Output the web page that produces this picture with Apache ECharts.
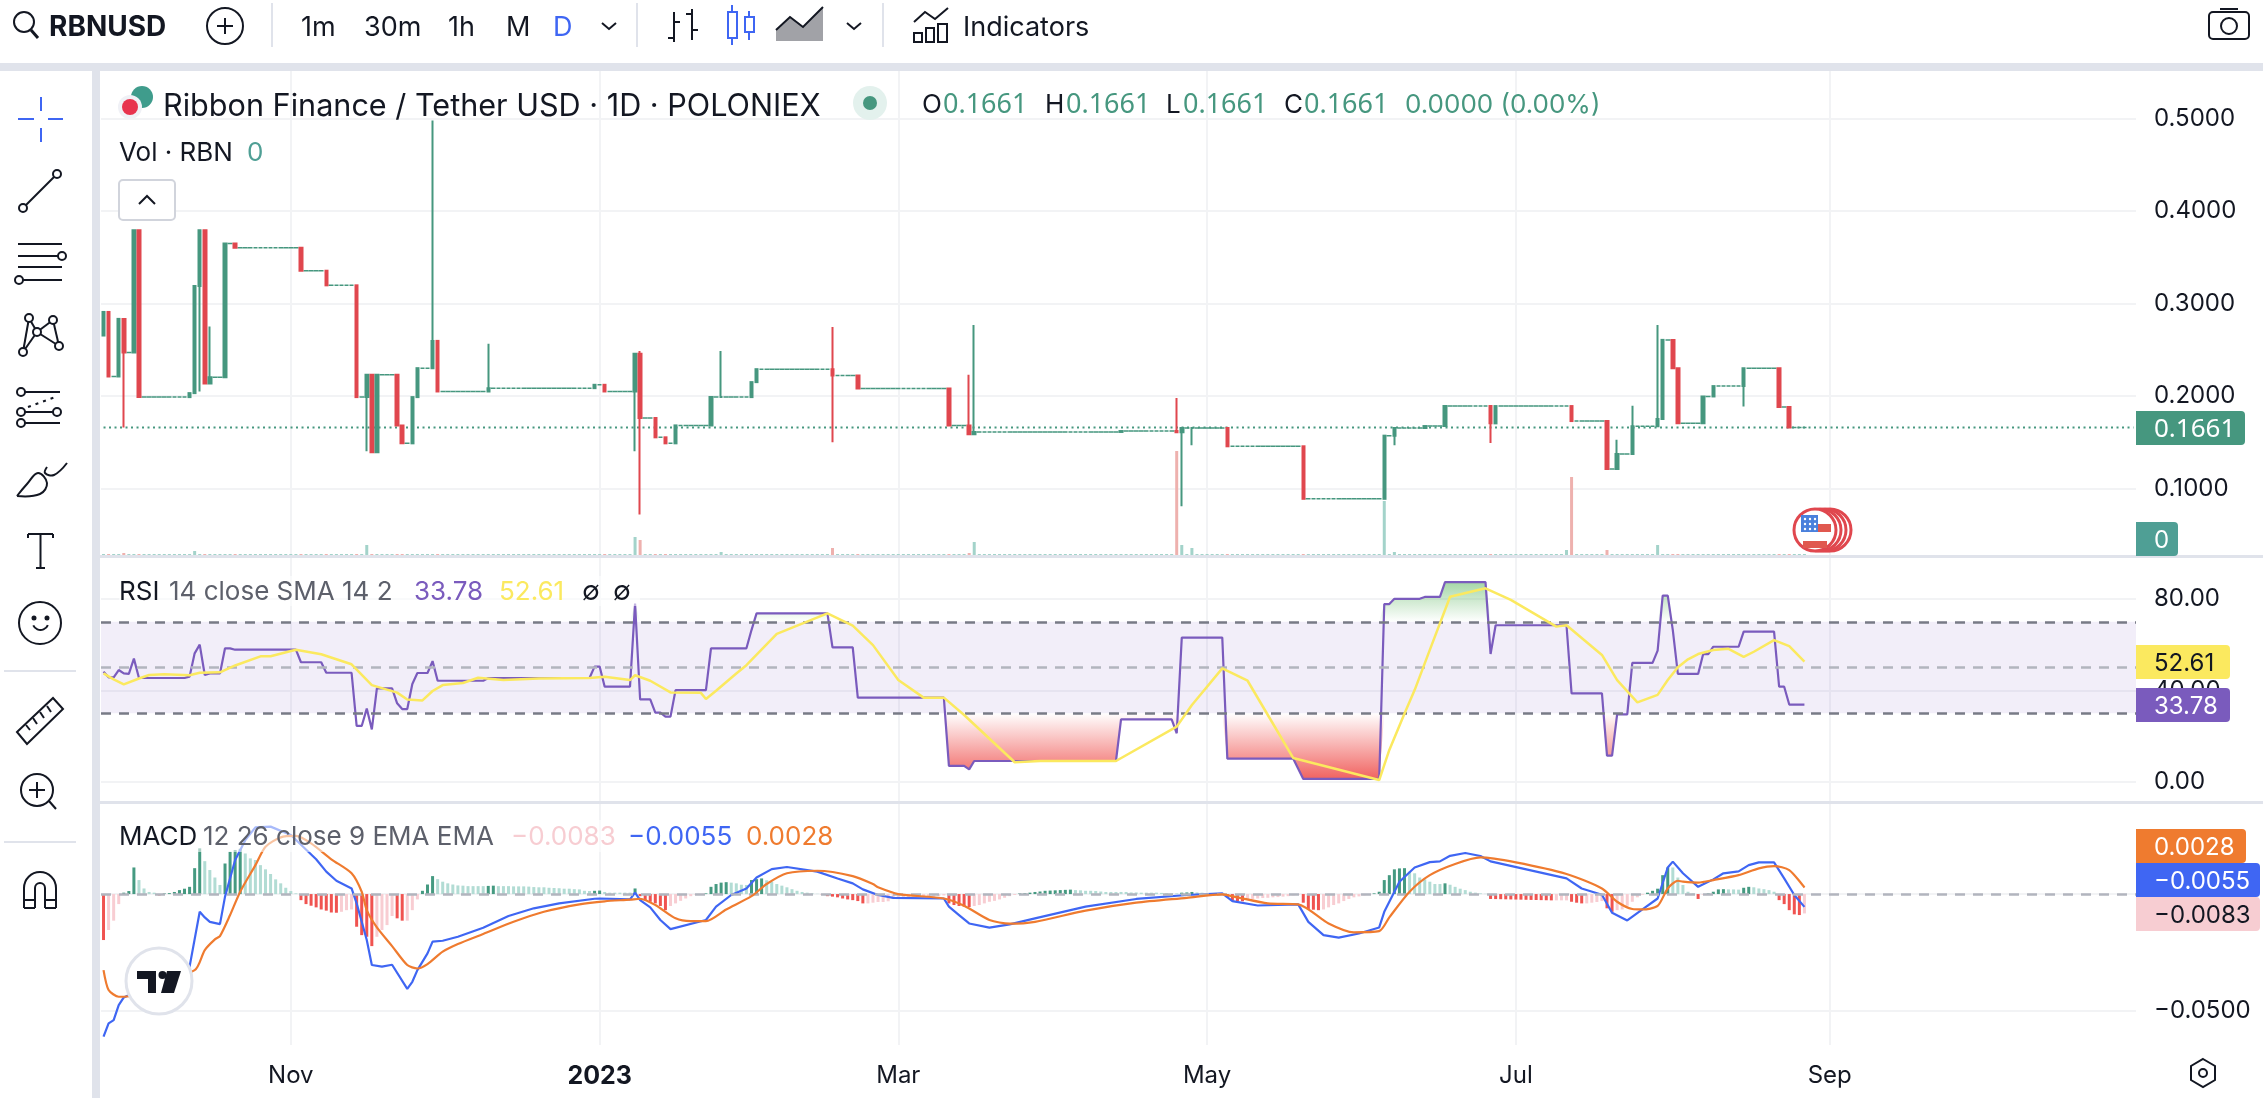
<!DOCTYPE html>
<html lang="en">
<head>
<meta charset="UTF-8">
<title>RBNUSD</title>
<style>
  html, body { margin: 0; padding: 0; background: #fff; }
  #chart { width: 2263px; height: 1098px; }
</style>
</head>
<body>
<div id="chart"></div>
<script src="https://cdn.jsdelivr.net/npm/echarts@6/dist/echarts.min.js"></script>
<script>
// daily axis, one slot per day, first day is 2022-09-25
var firstDay = Date.UTC(2022, 8, 25);
var dayCount = 402;
var lastCandle = 336;
var tickDates = ['2022-11-01', '2023-01-01', '2023-03-01', '2023-05-01', '2023-07-01', '2023-09-01'];
var tickLabels = ['Nov', '{b|2023}', 'Mar', 'May', 'Jul', 'Sep'];

// days the price moved: [day, open, close, low, high], low/high left out when there is no wick
// every other day has no trades and sits at the last close
var candleMoves = [
  [0,.2655,.291],[1,.291,.2212],[3,.2212,.2835],[4,.2835,.2471,.1661],[6,.2471,.3795],[7,.3795,.1989],
  [17,.1989,.2032],[18,.2032,.3191],[19,.3191,.3795,.205],[20,.3795,.2137],[21,.2137,.2205,.2137,.2752],
  [24,.2205,.3651],[26,.3651,.3604],[39,.3604,.3356],[44,.3356,.3198],[50,.3198,.1989],[52,.1989,.223,.1403],
  [53,.223,.1392],[54,.1392,.223],[58,.223,.1683],[59,.1683,.1489],[61,.1489,.1989],[62,.1989,.2302],
  [65,.2302,.2597,.2302,.4982],[66,.2597,.205],[76,.205,.2086,.205,.2565],[97,.2086,.2122],[99,.2122,.205],
  [105,.205,.2457,.1403],[106,.2457,.1763,.0719,.2489],[109,.1763,.1554],[111,.1554,.1489],[113,.1489,.1683],
  [120,.1683,.1989],[122,.1989,.1989,.1989,.2489],[128,.1989,.2151],[129,.2151,.2291],
  [144,.2291,.2223,.15,.2748],[149,.2223,.2083],[167,.2083,.1683],[171,.1683,.1586,.1586,.223],
  [172,.1586,.1612,.1586,.277],[201,.1612,.1622],[212,.1622,.1608,.1608,.1978],[213,.1608,.1655,.0809],
  [215,.1655,.1655,.1468],[222,.1655,.1457],[237,.1457,.0889],[253,.0889,.1572],[255,.1572,.1655,.1468],
  [261,.1655,.1676],[265,.1676,.1892],[274,.1892,.1705,.1493],[275,.1705,.1892],[290,.1892,.173],
  [297,.173,.1212],[299,.1212,.1374,.1212,.1529],[302,.1374,.1673,.1374,.1896],[307,.1673,.1752,.1673,.277],
  [308,.1752,.2608],[310,.2608,.2302],[311,.2302,.1705],[316,.1705,.1996],[318,.1996,.2108],
  [324,.2108,.2302,.1888],[331,.2302,.1881],[333,.1881,.1661]
];
var lastPrice = 0.1661;

// volume has no readable scale, these are relative heights
var baseVolume = 2;
var volumeSpikes = [[4,3],[18,5],[52,11],[105,19],[106,16],[122,4],[144,8],[171,3],[172,14],[212,105],
  [213,11],[215,8],[253,55],[255,4],[289,6],[290,79],[297,6],[307,11]];

var rsiLine = [[0,48.2],[1,45.7],[2,45.7],[3,48.9],[4,47.4],[5,47.2],[6,53.9],[7,45.4],[16,45.4],[17,46],[18,56.2],
  [19,60],[20,46.7],[21,47.4],[23,47.4],[24,58.4],[25,58.4],[26,57.8],[38,57.8],[39,52.3],[43,52.3],[44,47.7],
  [49,47.7],[50,24.4],[51,24.4],[52,32],[53,22.9],[54,40.9],[57,40.9],[58,34.3],[59,31.8],[60,31.8],[61,42.8],
  [62,47.6],[64,47.6],[65,52.8],[66,44.2],[75,44.2],[76,45.4],[96,45.4],[97,50.4],[98,50.4],[99,41.6],[104,41.6],
  [105,78],[106,36],[108,36],[109,30.2],[110,30.2],[111,28.5],[112,28.5],[113,40.1],[119,40.1],[120,58.4],
  [127,58.4],[128,66.4],[129,73.7],[143,73.7],[144,58.8],[148,58.8],[149,36.8],[166,36.8],[167,6.9],[170,6.9],
  [171,5.4],[172,9.05],[200,9.05],[201,27.3],[211,27.3],[212,21.2],[213,63.1],[221,63.1],[222,10.1],[235,10.1],
  [237,1.2],[252,1.2],[253,77.8],[254,77.8],[255,80.1],[260,80.1],[261,80.9],[264,80.9],[265,87.4],[273,87.4],
  [274,55.9],[275,68.5],[289,68.5],[290,38.7],[296,38.7],[297,11.4],[298,11.4],[299,29.5],[301,29.5],[302,52],
  [306,52],[307,57.4],[308,81.5],[309,81.5],[310,66.4],[311,47.2],[315,47.2],[316,55.9],[317,55.9],[318,59.1],
  [323,59.1],[324,65.7],[330,65.7],[331,41.6],[332,41.6],[333,33.78],[336,33.78]];

var rsiAverage = [[0,47.4],[2,44.8],[4,42.6],[7,45.2],[9,46.7],[12,47],[17,46.6],[19,47.7],[23,47.9],[26,50.9],
  [31,54.9],[33,54.9],[38,57.8],[43,55.8],[49,51.4],[53,42.3],[58,39],[60,36],[63,35.6],[65,39.7],[67,42.3],
  [71,43.2],[74,45.5],[79,44.5],[86,45.2],[96,45.4],[99,46],[104,44.5],[105,46.6],[108,44.2],[112,39.1],[118,38.9],
  [119,36.2],[121,39.8],[125,47.4],[127,51],[133,64.7],[143,73.7],[148,68.3],[152,59.8],[157,44.5],[162,36.8],
  [166,36.8],[170,29.2],[180,8.5],[185,9.05],[200,9.05],[212,24.1],[215,33.6],[221,49.6],[226,44.2],[230,29.2],
  [235,10.4],[252,.7],[254,13.9],[257,29.9],[259,40.1],[262,57.7],[266,81],[273,84.7],[278,79.6],[287,67.9],
  [289,68.5],[296,55.5],[299,44.5],[303,34.7],[307,38],[309,44.5],[311,50.1],[313,53.6],[315,55.9],[318,57.7],
  [321,58.2],[324,54.7],[326,56.9],[330,62],[333,59.4],[336,52.61]];

// stretches of the rsi past its bands, null breaks the shading
var rsiOversold = [[166,30],[167,6.9],[170,6.9],[171,5.4],[172,9.05],[200,9.05],[201,27.3],[211,27.3],[212,21.2],[213,30],
  [214,null],[221,30],[222,10.1],[235,10.1],[237,1.2],[252,1.2],[253,30],[254,null],[296,30],[297,11.4],[298,11.4],[299,29.5],[301,29.5],[302,30]];
var rsiOverbought = [[104,70],[105,78],[106,70],[107,null],[128,70],[129,73.7],[143,73.7],[144,70],[145,null],
  [252,70],[253,77.8],[254,77.8],[255,80.1],[260,80.1],[261,80.9],[264,80.9],[265,87.4],[273,87.4],[274,70],[275,null],
  [307,70],[308,81.5],[309,81.5],[310,70]];

var macdLine = [[0,-.0611],[1,-.0554],[2,-.054],[3,-.0476],[4,-.0443],[17,-.0311],[19,-.0076],[20,-.01],[21,-.0119],
  [23,-.0129],[24,-.0011],[26,.0146],[28,.0231],[30,.0286],[33,.0289],[37,.0253],[42,.0149],[44,.0096],[46,.0057],
  [49,.0024],[50,-.004],[52,-.0197],[53,-.0304],[55,-.0311],[57,-.0303],[60,-.0406],[61,-.0376],[62,-.0326],
  [64,-.0254],[65,-.0204],[67,-.02],[70,-.0183],[75,-.0144],[80,-.0094],[85,-.0061],[90,-.004],[97,-.002],[98,-.0019],
  [104,-.0023],[105,.0006],[106,-.0026],[108,-.0057],[110,-.0111],[112,-.015],[119,-.0111],[121,-.0054],[124,-.0004],
  [127,.0024],[129,.0071],[132,.0107],[135,.0116],[141,.0096],[145,.0067],[148,.0046],[150,.002],[153,-.0004],
  [156,-.0016],[166,-.0019],[167,-.0054],[169,-.009],[171,-.0126],[175,-.0144],[179,-.013],[184,-.0104],[194,-.0054],
  [204,-.0021],[214,-.0004],[221,.0003],[223,-.003],[228,-.0049],[236,-.0044],[238,-.0119],[241,-.0176],[244,-.0187],
  [248,-.0169],[252,-.0143],[253,-.0076],[256,.0053],[259,.0114],[262,.0137],[264,.014],[266,.0164],[269,.0176],
  [272,.0163],[274,.014],[289,.0067],[292,.0024],[296,-.0003],[298,-.008],[301,-.0113],[304,-.0066],[307,-.0019],
  [309,.0114],[310,.0139],[312,.0089],[315,.0031],[318,.0063],[320,.0089],[323,.0097],[325,.0124],[327,.0136],
  [330,.0136],[332,.0067],[334,-.0004],[336,-.0055]];

var macdSignal = [[0,-.0326],[1,-.0411],[3,-.044],[4,-.044],[18,-.0326],[20,-.024],[22,-.0194],[23,-.018],[25,-.009],
  [27,.001],[30,.0124],[32,.0203],[35,.0243],[38,.0249],[41,.0217],[45,.0149],[49,.0089],[51,.001],[52,-.0069],
  [54,-.0143],[57,-.0223],[60,-.0304],[62,-.0319],[64,-.03],[67,-.0247],[70,-.0214],[75,-.0171],[81,-.0119],
  [87,-.0076],[94,-.0044],[99,-.0031],[104,-.0024],[106,-.002],[109,-.0047],[113,-.0104],[116,-.0116],[119,-.0116],
  [123,-.0066],[128,-.0009],[131,.0043],[135,.0089],[141,.01],[148,.0077],[152,.0043],[153,.0029],[157,0],[166,-.0019],
  [170,-.005],[175,-.0111],[179,-.0127],[184,-.0119],[194,-.0071],[204,-.0037],[214,-.0016],[221,-.0001],[224,-.0014],
  [230,-.004],[236,-.0044],[242,-.0126],[247,-.0164],[252,-.0159],[254,-.01],[258,.001],[262,.0081],[267,.0129],
  [272,.0157],[279,.0136],[289,.0086],[296,.0024],[299,-.0033],[302,-.0064],[304,-.0066],[307,-.0051],[309,.0024],
  [311,.0057],[312,.0053],[315,.0049],[318,.006],[323,.0081],[327,.011],[330,.012],[333,.0103],[336,.0028]];

var macdHist = [
  -.0197,-.0154,-.0114,-.0043,.0006,.0013,.0114,.006,.0024,.0009,
  .0006,-.0006,.0003,.0004,.0009,.0017,.0023,.0031,.0111,.0196,
  .0141,.0103,.0071,.0039,.0131,.0181,.0189,.0194,.0174,.0153,
  .0146,.0124,.0106,.0086,.0063,.0046,.0027,.0013,.0003,-.0026,
  -.0043,-.005,-.0057,-.0066,-.0071,-.0079,-.008,-.0076,-.0069,-.0066,
  -.014,-.0176,-.0183,-.0223,-.0183,-.0154,-.0133,-.0094,-.0104,-.0114,
  -.0114,-.0069,-.0023,.0014,.0041,.0077,.0064,.0053,.0046,.0041,
  .0037,.0036,.0034,.0034,.0034,.0034,.0035,.0036,.0034,.0034,
  .0034,.0033,.0033,.0033,.0032,.003,.0029,.0029,.0027,.0026,
  .0025,.0023,.0023,.0021,.002,.0014,.0013,.0014,.0015,.0009,
  .0006,.0006,.0006,.0006,.0006,.0024,-.0009,-.0026,-.0033,-.004,
  -.0051,-.0069,-.0051,-.004,-.0029,-.0019,-.0009,-.0003,-.0001,.0003,
  .0031,.0043,.0049,.0051,.0049,.0046,.004,.0039,.006,.0064,
  .0067,.0059,.0053,.0043,.0036,.0029,.0021,.0014,.0009,.0006,
  .0003,.0001,-.0004,-.0009,-.0011,-.0014,-.0019,-.0023,-.0026,-.003,
  -.004,-.004,-.0037,-.0034,-.0034,-.0031,-.0019,-.0016,-.0014,-.0013,
  -.0011,-.0011,-.0011,-.0011,-.0011,-.0009,-.0006,-.004,-.0047,-.0051,
  -.0054,-.0056,-.0051,-.0047,-.004,-.0033,-.0029,-.0023,-.0016,-.0009,
  -.0004,.0003,.0004,.0006,.0009,.0011,.0014,.0015,.0016,.0017,
  .0018,.0019,.0017,.0016,.0014,.0014,.0013,.0011,.0009,.0009,
  .0009,.0009,.0009,.0007,.0007,.0006,.0006,.0006,.0006,.0005,
  .0004,.0003,.0003,.0006,.0007,.0009,.0007,.0006,.0004,.0003,
  .0002,-.0003,-.0014,-.0029,-.003,-.0031,-.0023,-.0021,-.0019,-.0017,
  -.0016,-.0014,-.0013,-.0011,-.0009,-.0006,-.0003,-.0037,-.0066,-.0067,
  -.0069,-.0066,-.0057,-.0047,-.004,-.003,-.0021,-.0014,-.001,-.0006,
  -.0003,.0003,.001,.006,.0081,.0106,.011,.0111,.0096,.0089,
  .0071,.0063,.0053,.0043,.0043,.0046,.004,.0031,.0023,.0017,
  .001,.0006,.0003,.0001,-.0021,-.00215,-.0022,-.00225,-.0023,-.00235,
  -.0024,-.00245,-.0025,-.00255,-.0026,-.00265,-.0027,-.0027,-.0027,-.0027,
  -.0033,-.0037,-.004,-.004,-.0037,-.0034,-.003,-.0061,-.0076,-.0069,
  -.0066,-.005,-.0033,-.0014,-.0003,.0006,.0014,.0023,.0081,.0114,
  .0114,.0071,.0039,.001,.0003,-.0021,-.0003,.0003,.001,.002,
  .0021,.002,.002,.0019,.0027,.0031,.0029,.0024,.0021,.0017,
  .001,-.0026,-.0043,-.0069,-.0087,-.009,-.0083
];

var GREEN = '#46977f', RED = '#e0474e';
var PALE_GREEN = '#a3d3ca', PALE_RED = '#eeb1ae';
var PURPLE = '#7a5bbd', YELLOW = '#fbe95f', BLUE = '#3f66f3', ORANGE = '#ef7b2f', PINK = '#f7cdd2';
var INK = '#131722', GREY = '#5d606b', GRID = '#f2f3f5', EDGE = '#e0e3eb';
var FONT = 'Inter, "Noto Sans", sans-serif';
var NUMS = '"Noto Sans", sans-serif';

var categories = [];
for (var d = 0; d < dayCount; d++) {
  categories.push(new Date(firstDay + d * 864e5).toISOString().slice(0, 10));
}

// moved days and flat days go to two series, flat days draw as a wider dash
var candles = [];
var flatCandles = [];
var volumes = [];
var lastClose = candleMoves[0][1];
var moveAt = {};
candleMoves.forEach(function (m) { moveAt[m[0]] = m; });
volumeSpikes.forEach(function (s) { moveAt['v' + s[0]] = s[1]; });
for (var i = 0; i <= lastCandle; i++) {
  var m = moveAt[i];
  var row;
  if (m) {
    var lo = m[3] == null ? Math.min(m[1], m[2]) : m[3];
    var hi = m[4] == null ? Math.max(m[1], m[2]) : m[4];
    row = [m[1], m[2], lo, hi];
    lastClose = m[2];
    candles.push(row);
    flatCandles.push('-');
  } else {
    row = [lastClose, lastClose, lastClose, lastClose];
    candles.push('-');
    flatCandles.push(row);
  }
  volumes.push({
    value: moveAt['v' + i] || baseVolume,
    itemStyle: { color: row[1] < row[0] ? PALE_RED : PALE_GREEN }
  });
}

var histBars = macdHist.map(function (v, k) {
  var prev = k ? macdHist[k - 1] : 0;
  var c;
  if (v >= 0) c = v > prev ? '#459a81' : '#b2dcd4';
  else c = v < prev ? '#f05350' : '#f8cdd2';
  return { value: v, itemStyle: { color: c } };
});

// ---- chrome drawn on top of the panes
var els = [];
function T(x, y, text, fill, size, weight, family) {
  els.push({ type: 'text', z: 100, silent: true, style: {
    x: x, y: y + 1.5, text: text, fill: fill || INK, textAlign: 'left', textVerticalAlign: 'middle',
    font: (weight || 'normal') + ' ' + (size || 27) + 'px ' + (family || FONT) } });
}
function L(x1, y1, x2, y2, color, w, dash) {
  els.push({ type: 'line', z: 100, silent: true, shape: { x1: x1, y1: y1, x2: x2, y2: y2 },
    style: { stroke: color || INK, lineWidth: w || 2, lineDash: dash } });
}
function C(x, y, r, stroke, fill, w) {
  els.push({ type: 'circle', z: 100, silent: true, shape: { cx: x, cy: y, r: r },
    style: { stroke: stroke === undefined ? INK : stroke, fill: fill || '#fff', lineWidth: w || 2 } });
}
function R(x, y, w, h, fill, stroke, r) {
  els.push({ type: 'rect', z: 100, silent: true, shape: { x: x, y: y, width: w, height: h, r: r || 0 },
    style: { fill: fill || 'none', stroke: stroke || null, lineWidth: 2 } });
}
function P(points, stroke, fill, closed) {
  els.push({ type: closed ? 'polygon' : 'polyline', z: 100, silent: true, shape: { points: points },
    style: { stroke: stroke === undefined ? INK : stroke, fill: fill || 'none', lineWidth: 2 } });
}
function badge(x, y, w, h, fill, text, color, family, size) {
  R(x, y, w, h, fill, null, [0, 4, 4, 0]);
  T(x + 18, y + h / 2, text, color, size || 24, null, family);
}

// separators
R(0, 63, 2263, 8, EDGE);
R(92, 63, 8, 1035, EDGE);
R(100, 555, 2163, 3, EDGE);
R(100, 801, 2163, 3, EDGE);

// top bar
C(24, 22, 10); L(31, 30, 38, 38, INK, 3);
T(49, 26, 'RBNUSD', INK, 28, 'bold');
C(225, 26, 18); L(217, 26, 233, 26); L(225, 18, 225, 34);
L(272, 3, 272, 47, EDGE); L(637, 3, 637, 47, EDGE); L(883, 3, 883, 47, EDGE);
T(301, 26, '1m'); T(364, 26, '30m'); T(448, 26, '1h'); T(506, 26, 'M'); T(553, 26, 'D', BLUE);
P([[602, 23], [609, 29], [616, 23]]);
L(674, 12, 674, 42); L(668, 38, 674, 38); L(674, 22, 680, 22);
L(692, 9, 692, 40); L(686, 14, 692, 14); L(692, 30, 698, 30);
L(732, 5, 732, 45, BLUE); R(728, 12, 9, 26, '#fff', BLUE);
L(749, 11, 749, 40, BLUE); R(745, 17, 9, 15, '#fff', BLUE);
P([[776, 41], [776, 30], [790, 17], [803, 27], [823, 7], [823, 41]], null, 'rgba(19,23,34,0.4)', true);
P([[776, 30], [790, 17], [803, 27], [823, 7]]);
P([[847, 23], [854, 29], [861, 23]]);
P([[914, 22], [925, 12], [935, 19], [948, 8]]);
R(914, 33, 8, 9, null, INK); R(926, 28, 8, 14, null, INK); R(938, 24, 9, 18, null, INK);
T(963, 26, 'Indicators');
R(2209, 12, 40, 27, null, INK, 4); C(2229, 26, 8); L(2220, 9, 2238, 9);

// left tools
L(18, 119, 34, 119, BLUE); L(48, 119, 63, 119, BLUE); L(41, 97, 41, 111, BLUE); L(41, 128, 41, 142, BLUE);
L(23, 208, 57, 174); C(23, 208, 4); C(57, 174, 4);
[244, 256, 267, 280].forEach(function (y) { L(18, y, 62, y); });
C(62, 256, 4); C(19, 280, 4);
[[23, 352, 29, 318], [29, 318, 37, 332], [23, 352, 37, 332], [37, 332, 53, 320], [53, 320, 59, 346], [37, 332, 59, 346]].forEach(function (e) {
  L(e[0], e[1], e[2], e[3]);
});
[[29, 318], [23, 352], [37, 332], [53, 320], [59, 346]].forEach(function (n) { C(n[0], n[1], 4); });
L(21, 392, 60, 392); L(21, 412, 57, 412); L(21, 423, 60, 423); L(28, 407, 58, 396, INK, 2, [3, 5]);
C(21, 392, 4); C(21, 412, 4); C(57, 412, 4); C(21, 423, 4);
els.push({ type: 'polyline', z: 100, silent: true, shape: { points: [[17, 496], [27, 484], [38, 473], [47, 483], [40, 494], [17, 496]], smooth: 0.4 }, style: { stroke: INK, fill: 'none', lineWidth: 2 } });
els.push({ type: 'polyline', z: 100, silent: true, shape: { points: [[47, 467], [45, 473], [54, 475], [67, 463]], smooth: 0.4 }, style: { stroke: INK, fill: 'none', lineWidth: 2 } });
L(28, 534, 53, 534); L(40.5, 534, 40.5, 568); L(36, 568, 45, 568); L(28, 534, 28, 538); L(53, 534, 53, 538);
C(40, 623, 21); C(34, 618, 1.5, INK, INK); C(47, 618, 1.5, INK, INK);
els.push({ type: 'arc', z: 100, silent: true, shape: { cx: 40.5, cy: 622, r: 8, startAngle: 0.4, endAngle: 2.7 }, style: { stroke: INK, fill: 'none', lineWidth: 2 } });
L(4, 671, 76, 671, EDGE);
P([[17, 732], [53, 698], [63, 709], [27, 744]], INK, null, true);
[[26, 725, 30, 730], [33, 718, 37, 724], [40, 712, 44, 718], [47, 706, 51, 712]].forEach(function (e) { L(e[0], e[1], e[2], e[3]); });
C(37, 790, 16); L(29, 790, 45, 790); L(37, 782, 37, 798); L(49, 801, 56, 809);
L(4, 842, 76, 842, EDGE);
els.push({ type: 'arc', z: 100, silent: true, shape: { cx: 40, cy: 888, r: 16, startAngle: Math.PI, endAngle: 2 * Math.PI }, style: { stroke: INK, fill: 'none', lineWidth: 2 } });
els.push({ type: 'arc', z: 100, silent: true, shape: { cx: 40, cy: 888, r: 5, startAngle: Math.PI, endAngle: 2 * Math.PI }, style: { stroke: INK, fill: 'none', lineWidth: 2 } });
L(24, 888, 24, 908); L(35, 888, 35, 908); L(45, 888, 45, 908); L(56, 888, 56, 908);
L(24, 908, 35, 908); L(45, 908, 56, 908); L(24, 900, 35, 900); L(45, 900, 56, 900);

// main legend
C(142, 97, 11, null, '#3f9c8c'); C(130, 107, 12, null, '#f0f1f6'); C(130, 107, 8, null, '#e8334e');
T(163, 105, 'Ribbon Finance / Tether USD · 1D · POLONIEX', INK, 30.6);
C(870, 103, 17, null, '#e3f1ed'); C(870, 103, 7, null, GREEN);
T(922, 104, 'O', INK, 26); T(943, 104, '0.1661', GREEN, 27, null, NUMS);
T(1045, 104, 'H', INK, 26); T(1066, 104, '0.1661', GREEN, 27, null, NUMS);
T(1166, 104, 'L', INK, 26); T(1183, 104, '0.1661', GREEN, 27, null, NUMS);
T(1284, 104, 'C', INK, 26); T(1304, 104, '0.1661', GREEN, 27, null, NUMS);
T(1405, 104, '0.0000 (0.00%)', GREEN, 26);
T(119, 152, 'Vol · RBN', INK, 26); T(247, 152, '0', '#4f9f95', 26);
R(119, 180, 56, 40, '#fff', '#d1d4dc', 4);
P([[139, 204], [147, 196], [155, 204]], INK);

// indicator legends sit on a veil that fades the lines under them
R(119, 576, 521, 30, 'rgba(255,255,255,0.55)');
R(119, 820, 716, 32, 'rgba(255,255,255,0.55)');
T(119, 591, 'RSI', INK, 26); T(169, 591, '14 close SMA 14 2', GREY, 26);
T(414, 591, '33.78', PURPLE, 26); T(499, 591, '52.61', YELLOW, 26);
T(582, 591, '∅', INK, 26); T(613, 591, '∅', INK, 26);
T(119, 836, 'MACD', INK, 26); T(203, 836, '12 26 close 9 EMA EMA', GREY, 26);
T(511, 836, '−0.0083', PINK, 26); T(628, 836, '−0.0055', BLUE, 26); T(746, 836, '0.0028', ORANGE, 26);

// price scale tags
badge(2136, 411, 109, 34, GREEN, '0.1661', '#fff', NUMS, 26);
badge(2136, 522, 42, 34, '#4f9f95', '0', '#fff');
badge(2136, 645, 94, 34, YELLOW, '52.61', INK);
badge(2136, 688, 94, 34, PURPLE, '33.78', '#fff');
badge(2136, 829, 110, 34, ORANGE, '0.0028', '#fff');
badge(2136, 863, 124, 34, BLUE, '−0.0055', '#fff');
badge(2136, 897, 124, 34, PINK, '−0.0083', INK);

// event marker
[1830, 1825, 1820].forEach(function (x) { C(x, 530, 21, RED, '#fff', 3); });
C(1815, 530, 21, RED, '#fff', 3);
R(1801, 515, 17, 17, '#4a80dc');
R(1818, 524, 13, 8, '#e0584f');
R(1803, 541, 24, 7, '#e0584f');
[[1805, 519], [1810, 519], [1815, 519], [1805, 524], [1810, 524], [1815, 524], [1805, 529], [1810, 529], [1815, 529]].forEach(function (s) {
  C(s[0], s[1], 1.2, null, '#fff');
});

// tradingview badge and settings
C(159, 981, 33, EDGE, '#fff', 3);
R(137, 971, 19, 8, INK); R(148, 971, 8, 22, INK); C(162.5, 975, 4, null, INK);
P([[167, 971], [181, 971], [174, 993], [161, 993]], null, INK, true);
P([[2203, 1059], [2215, 1066], [2215, 1080], [2203, 1087], [2191, 1080], [2191, 1066]], INK, null, true);
C(2203, 1073, 4);

var gridBase = { left: 101, width: 2035, show: false, outerBoundsMode: 'none' };
var hiddenX = function (idx) {
  return { type: 'category', gridIndex: idx, data: categories, boundaryGap: true, show: false };
};
var scaleLabel = { color: INK, fontFamily: FONT, fontSize: 24, margin: 18, padding: [4, 0, 0, 0] };
var hLine = { show: true, showMinLine: false, showMaxLine: false, lineStyle: { color: GRID, width: 2 } };
var candleStyle = {
  color: GREEN, color0: RED, borderColor: GREEN, borderColor0: RED, borderColorDoji: GREEN, borderWidth: 2
};

var chart = echarts.init(document.getElementById('chart'), null, { width: 2263, height: 1098 });
chart.setOption({
  animation: false,
  backgroundColor: '#fff',
  grid: [
    Object.assign({ top: 72.5, height: 508.5 }, gridBase),  // price
    Object.assign({ top: 71, height: 485 }, gridBase),      // volume
    Object.assign({ top: 558, height: 315 }, gridBase),     // rsi
    Object.assign({ top: 804, height: 323.4 }, gridBase),   // macd
    Object.assign({ top: 71, height: 974 }, gridBase)       // month lines and labels
  ],
  xAxis: [
    hiddenX(0), hiddenX(1), hiddenX(2), hiddenX(3),
    {
      type: 'category', gridIndex: 4, data: categories, boundaryGap: true,
      axisLine: { show: false }, axisTick: { show: false },
      splitLine: {
        show: true, alignWithLabel: true,
        interval: function (k, v) { return tickDates.indexOf(v) >= 0; },
        lineStyle: { color: GRID, width: 2 }
      },
      axisLabel: {
        color: INK, fontFamily: FONT, fontSize: 24, margin: 19, hideOverlap: false,
        interval: function (k, v) { return tickDates.indexOf(v) >= 0; },
        formatter: function (v) { return tickLabels[tickDates.indexOf(v)]; },
        rich: { b: { fontWeight: 'bold', fontSize: 25, fontFamily: FONT, color: INK } }
      }
    }
  ],
  yAxis: [
    {
      type: 'value', gridIndex: 0, position: 'right', min: 0, max: 0.55, interval: 0.1,
      axisLine: { show: false }, axisTick: { show: false }, splitLine: hLine,
      axisLabel: Object.assign({
        formatter: function (v) { return v === 0 || v > 0.5001 ? '' : v.toFixed(4); }
      }, scaleLabel)
    },
    { type: 'value', gridIndex: 1, min: 0, max: 485, show: false },
    {
      type: 'value', gridIndex: 2, position: 'right', min: -40, max: 97.96, interval: 40,
      axisLine: { show: false }, axisTick: { show: false }, splitLine: hLine,
      axisLabel: Object.assign({
        formatter: function (v) { return v < 0 || v > 80 ? '' : v.toFixed(2); }
      }, scaleLabel)
    },
    {
      type: 'value', gridIndex: 3, position: 'right', min: -0.1, max: 0.0386, interval: 0.05,
      axisLine: { show: false }, axisTick: { show: false }, splitLine: hLine,
      axisLabel: Object.assign({
        formatter: function (v) {
          if (v < -0.06 || v > 0.01) return '';
          return v < 0 ? '−' + (-v).toFixed(4) : v.toFixed(4);
        }
      }, scaleLabel)
    },
    { type: 'value', gridIndex: 4, min: 0, max: 1, show: false }
  ],
  series: [
    {
      type: 'bar', name: 'Vol', xAxisIndex: 1, yAxisIndex: 1, barWidth: 3, z: 1,
      data: volumes, silent: true
    },
    {
      type: 'line', name: 'last price', xAxisIndex: 0, yAxisIndex: 0, showSymbol: false, silent: true, z: 2,
      data: [[0, lastPrice], [dayCount - 1, lastPrice]],
      lineStyle: { color: GREEN, type: [2, 3.5], width: 2 }
    },
    {
      type: 'candlestick', name: 'RBNUSD flat', xAxisIndex: 0, yAxisIndex: 0, barWidth: 5.2, z: 3,
      data: flatCandles, silent: true,
      itemStyle: Object.assign({}, candleStyle, { borderWidth: 1.5 })
    },
    {
      type: 'candlestick', name: 'RBNUSD', xAxisIndex: 0, yAxisIndex: 0, barWidth: 3, z: 3,
      data: candles, silent: true, itemStyle: candleStyle
    },
    {
      type: 'line', name: 'oversold', xAxisIndex: 2, yAxisIndex: 2, data: rsiOversold,
      showSymbol: false, silent: true, lineStyle: { width: 0 }, z: 2,
      areaStyle: {
        origin: 30, opacity: 1,
        color: { type: 'linear', x: 0, y: 713, x2: 0, y2: 782, global: true,
          colorStops: [{ offset: 0, color: 'rgba(239,83,80,0)' }, { offset: 1, color: 'rgba(239,83,80,0.95)' }] }
      }
    },
    {
      type: 'line', name: 'overbought', xAxisIndex: 2, yAxisIndex: 2, data: rsiOverbought,
      showSymbol: false, silent: true, lineStyle: { width: 0 }, z: 2,
      areaStyle: {
        origin: 70, opacity: 1,
        color: { type: 'linear', x: 0, y: 622, x2: 0, y2: 582, global: true,
          colorStops: [{ offset: 0, color: 'rgba(76,175,80,0)' }, { offset: 1, color: 'rgba(76,175,80,0.5)' }] }
      }
    },
    {
      type: 'line', name: 'RSI', xAxisIndex: 2, yAxisIndex: 2, data: rsiLine,
      showSymbol: false, silent: true, z: 4, lineStyle: { color: PURPLE, width: 2.2 },
      markArea: {
        silent: true, itemStyle: { color: 'rgba(126,87,194,0.1)' },
        data: [[{ yAxis: 30 }, { yAxis: 70 }]]
      },
      markLine: {
        silent: true, symbol: 'none', label: { show: false },
        data: [
          { yAxis: 70, lineStyle: { color: '#787b86', type: [10, 8], width: 2.5 } },
          { yAxis: 50, lineStyle: { color: '#b2b5be', type: [10, 8], width: 2.5 } },
          { yAxis: 30, lineStyle: { color: '#787b86', type: [10, 8], width: 2.5 } }
        ]
      }
    },
    {
      type: 'line', name: 'RSI MA', xAxisIndex: 2, yAxisIndex: 2, data: rsiAverage,
      showSymbol: false, silent: true, z: 5, lineStyle: { color: YELLOW, width: 2.5 }
    },
    {
      type: 'bar', name: 'Histogram', xAxisIndex: 3, yAxisIndex: 3, barWidth: 3, z: 2,
      data: histBars, silent: true,
      markLine: {
        silent: true, symbol: 'none', label: { show: false },
        lineStyle: { color: '#b2b5be', type: [10, 8], width: 2.5 },
        data: [{ yAxis: 0 }]
      }
    },
    {
      type: 'line', name: 'MACD', xAxisIndex: 3, yAxisIndex: 3, data: macdLine,
      showSymbol: false, silent: true, z: 4, lineStyle: { color: BLUE, width: 2.2 }
    },
    {
      type: 'line', name: 'Signal', xAxisIndex: 3, yAxisIndex: 3, data: macdSignal,
      showSymbol: false, silent: true, z: 5, smooth: 0.25, lineStyle: { color: ORANGE, width: 2.2 }
    }
  ],
  graphic: { elements: els }
});
</script>
</body>
</html>
